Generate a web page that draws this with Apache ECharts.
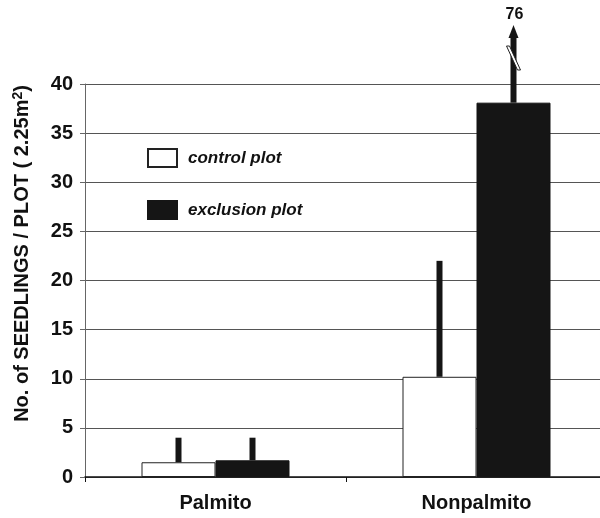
<!DOCTYPE html>
<html>
<head>
<meta charset="utf-8">
<script src="https://cdn.jsdelivr.net/npm/echarts@6/dist/echarts.min.js"></script>
<style>
  html, body { margin: 0; padding: 0; background: #fff; }
  #chart { width: 600px; height: 518px; }
</style>
</head>
<body>
<div id="chart"></div>
<script>
// Chart data
var categories = ['Palmito', 'Nonpalmito'];
var controlMeans = [1.5, 10.2];
var exclusionMeans = [1.7, 38.1];
var controlUpper = [4, 22];
var exclusionUpper = [4, 76];
var yMin = 0, yMax = 40, yStep = 5;

var barW = 74;
var font = '"Liberation Sans", Arial, sans-serif';

// error bars: [category, mean, upper, side]
var errData = [];
categories.forEach(function(c, i) {
  errData.push([i, controlMeans[i], controlUpper[i], -1]);
  errData.push([i, exclusionMeans[i], exclusionUpper[i], 1]);
});

function renderErr(params, api) {
  var cat = api.value(0), mean = api.value(1), up = api.value(2), side = api.value(3);
  var base = api.coord([cat, mean]);
  var top = api.coord([cat, Math.min(up, yMax)]);
  var x = base[0] + side * barW / 2;
  var children = [];
  if (up <= yMax) {
    children.push({ type: 'rect', shape: { x: x - 3, y: top[1], width: 6, height: base[1] - top[1] },
      style: { fill: '#151515' } });
  } else {
    var t = top[1];
    children.push({ type: 'rect', shape: { x: x - 3, y: t - 48, width: 6, height: base[1] - t + 48 },
      style: { fill: '#151515' } });
    children.push({ type: 'polygon', shape: { points: [[x - 5, t - 46], [x + 5, t - 46], [x, t - 59]] },
      style: { fill: '#151515' } });
    // break marks
    children.push({ type: 'polygon', shape: { points: [[x - 7, t - 38], [x - 4, t - 38], [x + 7, t - 14], [x + 4, t - 14]] },
      style: { fill: '#fff', stroke: '#222', lineWidth: 1 } });
    children.push({ type: 'text', style: { text: String(up), x: x + 1, y: t - 61, align: 'center', verticalAlign: 'bottom',
      font: 'bold 16px ' + font, fill: '#111' } });
  }
  return { type: 'group', children: children };
}

var myChart = echarts.init(document.getElementById('chart'));

myChart.setOption({
  animation: false,
  textStyle: { fontFamily: font },
  grid: { left: 85, width: 522, top: 84, bottom: 41, outerBoundsMode: 'none', containLabel: false },
  legend: {
    orient: 'vertical',
    left: 147, top: 148, padding: 0,
    itemWidth: 29, itemHeight: 18, itemGap: 32,
    icon: 'rect',
    data: ['control plot', 'exclusion plot'],
    textStyle: { fontSize: 17, fontStyle: 'italic', fontWeight: 'bold', color: '#111', padding: [0, 0, 0, 6] }
  },
  xAxis: {
    type: 'category',
    data: categories,
    axisLine: { lineStyle: { color: '#111', width: 1.5 } },
    axisTick: { show: true, length: 5, lineStyle: { color: '#111' } },
    axisLabel: { fontSize: 20, fontWeight: 'bold', color: '#111', margin: 16 }
  },
  yAxis: {
    type: 'value',
    min: yMin, max: yMax, interval: yStep,
    name: 'No. of SEEDLINGS / PLOT ( 2.25m{sup|2})',
    nameLocation: 'middle',
    nameGap: 52,
    nameTextStyle: {
      fontSize: 20, fontWeight: 'bold', color: '#111',
      padding: [0, 0, 0, 54],
      rich: { sup: { fontSize: 14, fontWeight: 'bold', color: '#111', verticalAlign: 'top', padding: [0, 0, 8, 0] } }
    },
    axisLine: { show: true, lineStyle: { color: '#666' } },
    axisTick: { show: true, length: 5, lineStyle: { color: '#666' } },
    axisLabel: { fontSize: 20, fontWeight: 'bold', color: '#111', margin: 12 },
    splitLine: { show: true, lineStyle: { color: '#555', width: 1 } }
  },
  series: [
    {
      name: 'control plot', type: 'bar', data: controlMeans,
      barWidth: barW, barGap: '0%',
      itemStyle: { color: '#fff', borderColor: '#222', borderWidth: 1 }
    },
    {
      name: 'exclusion plot', type: 'bar', data: exclusionMeans,
      barWidth: barW, barGap: '0%',
      itemStyle: { color: '#151515', borderColor: '#151515', borderWidth: 1 }
    },
    {
      type: 'custom', data: errData, renderItem: renderErr, clip: false, z: 3,
      encode: { x: 0, y: 2 }
    }
  ]
});
</script>
</body>
</html>
